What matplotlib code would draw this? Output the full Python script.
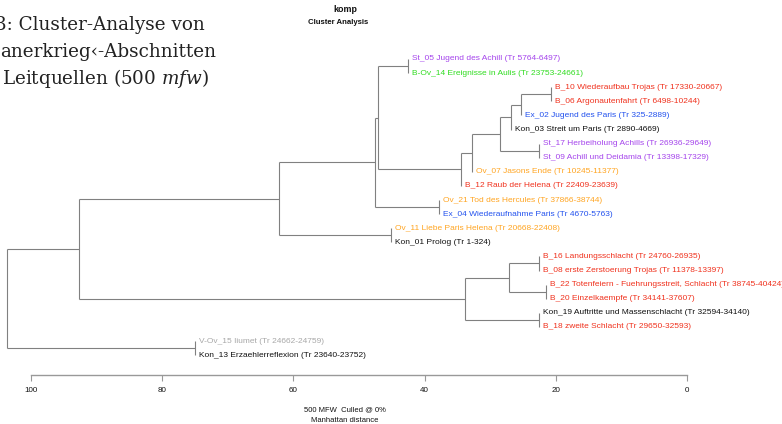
import matplotlib
matplotlib.use("Agg")
import matplotlib.pyplot as plt

plt.rcParams['font.family'] = ['Liberation Sans', 'DejaVu Sans']
plt.rcParams['mathtext.fontset'] = 'custom'
plt.rcParams['mathtext.rm'] = 'DejaVu Serif'
plt.rcParams['mathtext.it'] = 'DejaVu Serif:italic'

# ---------------- data ----------------
leaf_names = [
    "St_05 Jugend des Achill (Tr 5764-6497)",
    "B-Ov_14 Ereignisse in Aulis (Tr 23753-24661)",
    "B_10 Wiederaufbau Trojas (Tr 17330-20667)",
    "B_06 Argonautenfahrt (Tr 6498-10244)",
    "Ex_02 Jugend des Paris (Tr 325-2889)",
    "Kon_03 Streit um Paris (Tr 2890-4669)",
    "St_17 Herbeiholung Achills (Tr 26936-29649)",
    "St_09 Achill und Deidamia (Tr 13398-17329)",
    "Ov_07 Jasons Ende (Tr 10245-11377)",
    "B_12 Raub der Helena (Tr 22409-23639)",
    "Ov_21 Tod des Hercules (Tr 37866-38744)",
    "Ex_04 Wiederaufnahme Paris (Tr 4670-5763)",
    "Ov_11 Liebe Paris Helena (Tr 20668-22408)",
    "Kon_01 Prolog (Tr 1-324)",
    "B_16 Landungsschlacht (Tr 24760-26935)",
    "B_08 erste Zerstoerung Trojas (Tr 11378-13397)",
    "B_22 Totenfeiern - Fuehrungsstreit, Schlacht (Tr 38745-40424)",
    "B_20 Einzelkaempfe (Tr 34141-37607)",
    "Kon_19 Auftritte und Massenschlacht (Tr 32594-34140)",
    "B_18 zweite Schlacht (Tr 29650-32593)",
    "V-Ov_15 Iiumet (Tr 24662-24759)",
    "Kon_13 Erzaehlerreflexion (Tr 23640-23752)",
]

# merges: (child a, child b, node position on the distance axis)
# children < 22 are leaves, >= 22 are earlier merges (22 + index)
merge_a = [2, 22, 23, 6, 24, 26, 27, 0, 29, 10, 30, 12, 32, 14, 16, 35, 18, 37, 34, 20, 40]
merge_b = [3, 4, 5, 7, 25, 8, 9, 1, 28, 11, 31, 13, 33, 15, 17, 36, 19, 38, 39, 21, 41]
merge_pos = [20.7, 25.3, 26.8, 22.6, 28.5, 32.8, 34.5, 42.5, 47.1, 37.8, 47.6,
             45.1, 62.2, 22.6, 21.5, 27.1, 22.6, 33.8, 92.7, 75.0, 103.6]

axis_ticks = [0, 20, 40, 60, 80, 100]

title_lines = ["komp", "Cluster Analysis"]
bottom_lines = ["500 MFW  Culled @ 0%", "Manhattan distance"]
overlay_lines = ["3: Cluster-Analyse von", "anerkrieg\u2039-Abschnitten",
                 "Leitquellen (500 $\\mathit{mfw}$)"]

class_colors = {
    "St": "#a545ec", "B-Ov": "#30dc20", "B": "#f0321e", "Ex": "#2352ee",
    "Kon": "#111111", "Ov": "#ffa522", "V-Ov": "#a8a8a8",
}

# ---------------- figure ----------------
W, H = 782, 424
fig = plt.figure(figsize=(W / 100, H / 100), dpi=100)
ax = fig.add_axes([0, 49 / H, 1, 375 / H])
ax.set_xlim(104.73, -14.48)
ax.set_ylim(22.41, -4.184)

line_c = "#808080"
n = len(leaf_names)
node_y = {i: float(i) for i in range(n)}
node_x = {}
for k, (a, b, h) in enumerate(zip(merge_a, merge_b, merge_pos)):
    nid = n + k
    node_y[nid] = (node_y[a] + node_y[b]) / 2
    node_x[nid] = h
    ax.plot([h, h], [node_y[a], node_y[b]], color=line_c, lw=0.8,
            solid_capstyle="butt")
    for c in (a, b):
        if c >= n:
            ax.plot([h, node_x[c]], [node_y[c], node_y[c]], color=line_c,
                    lw=0.8, solid_capstyle="butt")
        else:
            cls = leaf_names[c].split("_")[0]
            ax.annotate(leaf_names[c], xy=(h, node_y[c]), xytext=(3, 0),
                        textcoords="offset points", ha="left", va="center",
                        fontsize=6.0, color=class_colors[cls])

for s in ("top", "left", "right"):
    ax.spines[s].set_visible(False)
ax.spines["bottom"].set_bounds(0, 100)
ax.spines["bottom"].set_color("#999999")
ax.spines["bottom"].set_linewidth(1.0)
ax.set_xticks(axis_ticks)
ax.set_xticklabels([str(t) for t in axis_ticks])
ax.tick_params(axis="x", direction="out", length=4, width=0.8,
               colors="#999999", labelcolor="#111111", labelsize=5.8, pad=4.5)
ax.set_yticks([])
ax.patch.set_alpha(0)

fig.text(345 / W, 1 - 10 / H, title_lines[0], ha="center", va="center",
         fontsize=6.4, fontweight="bold", color="#111111")
fig.text(338 / W, 1 - 23 / H, title_lines[1], ha="center", va="center",
         fontsize=5.6, fontweight="bold", color="#111111")

fig.text(345 / W, 1 - 410 / H, bottom_lines[0], ha="center", va="center",
         fontsize=5.5, color="#111111")
fig.text(345 / W, 1 - 420 / H, bottom_lines[1], ha="center", va="center",
         fontsize=5.5, color="#111111")

for (txt, xpx, ypx) in zip(overlay_lines, [-5, 0, 2], [30, 57, 84]):
    fig.text(xpx / W, 1 - ypx / H, txt, ha="left", va="baseline",
             fontsize=13.2, family="DejaVu Serif", color="#222222")

fig.savefig("out.png", dpi=100)
